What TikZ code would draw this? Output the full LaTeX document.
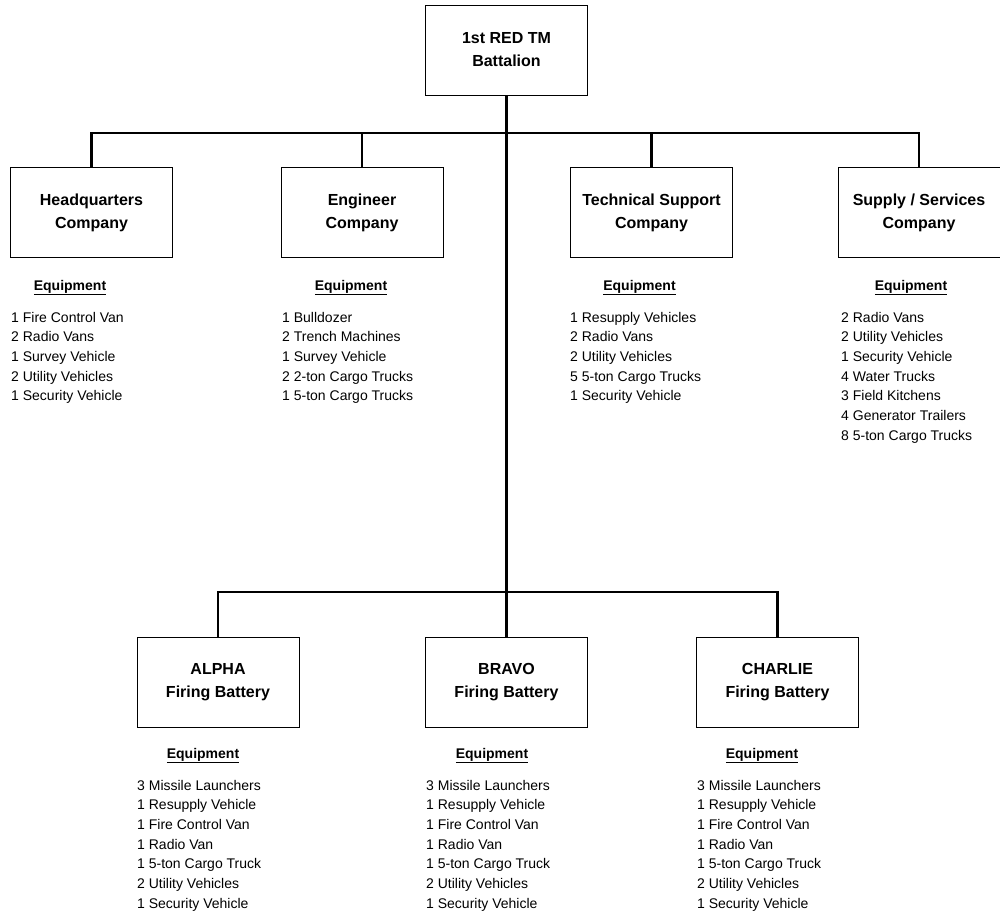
\documentclass[tikz,border=0pt]{standalone}
\usepackage{fontspec}
\setmainfont{Liberation Sans}
\usepackage{tikz}

\begin{document}
\begin{tikzpicture}[x=1pt,y=-1pt,
  unit/.style={draw,line width=0.9pt,minimum width=162pt,minimum height=90pt,align=center,inner sep=0pt,font=\fontsize{16}{23}\selectfont\bfseries},
  head/.style={anchor=base,inner sep=0pt,font=\fontsize{14}{17}\selectfont\bfseries},
  item/.style={anchor=base west,inner sep=0pt,font=\fontsize{14}{17}\selectfont},
  link/.style={line width=2.4pt}]
  \useasboundingbox (0,0) rectangle (1000,915);

  \node (bat) at (506.5,50) [unit] {1st RED TM\\Battalion};

  \node (hq) at (91.5,212.5) [unit] {Headquarters\\Company};
  \node (eng) at (362,212.5) [unit] {Engineer\\Company};
  \node (tech) at (651.5,212.5) [unit] {Technical Support\\Company};
  \node (supply) at (919,212.5) [unit] {Supply / Services\\Company};

  \node (alpha) at (218,682) [unit] {ALPHA\\Firing Battery};
  \node (bravo) at (506.5,682) [unit] {BRAVO\\Firing Battery};
  \node (charlie) at (777.5,682) [unit] {CHARLIE\\Firing Battery};

  \coordinate (upper) at (506.5,133);
  \coordinate (lower) at (506.5,592);

  \draw[link] (hq.north) |- (upper) -| (supply.north);
  \draw[link] (eng.north) -- (eng.north |- upper) (tech.north) -- (tech.north |- upper);
  \draw[link] (bat.south) -- (bravo.north);
  \draw[link] (alpha.north) |- (lower) -| (charlie.north);

  \node (hq-eq) at (70,290) [head] {\underline{Equipment}};
  \foreach \t [count=\i from 0] in {1 Fire Control Van,2 Radio Vans,1 Survey Vehicle,2 Utility Vehicles,1 Security Vehicle}
    \node (hq-\i) at (11,322+19.7*\i) [item] {\t};

  \node (eng-eq) at (351,290) [head] {\underline{Equipment}};
  \foreach \t [count=\i from 0] in {1 Bulldozer,2 Trench Machines,1 Survey Vehicle,2 2-ton Cargo Trucks,1 5-ton Cargo Trucks}
    \node (eng-\i) at (282,322+19.7*\i) [item] {\t};

  \node (tech-eq) at (639.5,290) [head] {\underline{Equipment}};
  \foreach \t [count=\i from 0] in {1 Resupply Vehicles,2 Radio Vans,2 Utility Vehicles,5 5-ton Cargo Trucks,1 Security Vehicle}
    \node (tech-\i) at (570,322+19.7*\i) [item] {\t};

  \node (supply-eq) at (911,290) [head] {\underline{Equipment}};
  \foreach \t [count=\i from 0] in {2 Radio Vans,2 Utility Vehicles,1 Security Vehicle,4 Water Trucks,3 Field Kitchens,4 Generator Trailers,8 5-ton Cargo Trucks}
    \node (supply-\i) at (841,322+19.7*\i) [item] {\t};

  \foreach \b/\x/\h in {alpha/137/203,bravo/426/492,charlie/697/762} {
    \node (\b-eq) at (\h,758) [head] {\underline{Equipment}};
    \foreach \t [count=\i from 0] in {3 Missile Launchers,1 Resupply Vehicle,1 Fire Control Van,1 Radio Van,1 5-ton Cargo Truck,2 Utility Vehicles,1 Security Vehicle}
      \node (\b-\i) at (\x,790+19.7*\i) [item] {\t};
  }
\end{tikzpicture}
\end{document}
